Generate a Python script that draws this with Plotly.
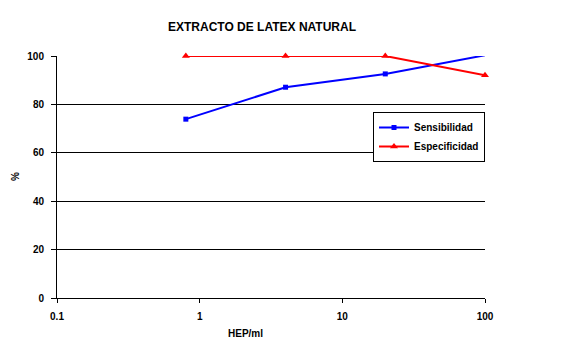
import plotly.graph_objects as go

x_vals = [0.8, 4, 20, 100]
sensibilidad = [73.9, 87.1, 92.6, 100.3]
especificidad = [100, 100, 100, 92]
x_ticks = [0.1, 1, 10, 100]
x_ticktext = ["0.1", "1", "10", "100"]
y_ticks = [0, 20, 40, 60, 80, 100]

font = "Liberation Sans, Arial, sans-serif"
W, H = 576, 354
L, R, T, B = 57, 91, 56, 56

fig = go.Figure()
fig.add_trace(go.Scatter(x=x_vals, y=sensibilidad, name="<b>Sensibilidad</b>", mode="lines+markers",
                         line=dict(color="#0000ff", width=2), cliponaxis=False,
                         marker=dict(symbol="square", size=5, color="#0000ff")))
fig.add_trace(go.Scatter(x=x_vals, y=especificidad, name="<b>Especificidad</b>", mode="lines+markers",
                         line=dict(color="#ff0000", width=2), cliponaxis=False,
                         marker=dict(symbol="triangle-up", size=7, color="#ff0000")))

pw = W - L - R
ph = H - T - B

fig.update_layout(
    width=W, height=H,
    margin=dict(l=L, r=R, t=T, b=B, autoexpand=False),
    paper_bgcolor="white", plot_bgcolor="white",
    font=dict(family=font, size=10, color="black"),
    title=dict(text="<b>EXTRACTO DE LATEX NATURAL</b>", x=262/W, xanchor="center",
               y=1 - 27/H, yanchor="middle", font=dict(size=12, family=font)),
    showlegend=True,
    legend=dict(x=1.0, xanchor="right", y=(H - B - 112)/ph, yanchor="top",
                bordercolor="black", borderwidth=1, bgcolor="white",
                font=dict(size=10, family=font), tracegroupgap=0,
                itemwidth=30),
    xaxis=dict(type="log", range=[-1, 2], tickvals=x_ticks, automargin=False,
               ticktext=["<b>%s</b>" % t for t in x_ticktext],
               showgrid=False, showline=True, linecolor="black", linewidth=1,
               ticks="outside", ticklen=4, tickcolor="black", zeroline=False,
               ticklabelstandoff=5),
    yaxis=dict(range=[0, 100], tickvals=y_ticks, automargin=False,
               ticktext=["<b>%d</b>" % t for t in y_ticks],
               showgrid=True, gridcolor="black", gridwidth=1,
               showline=True, linecolor="black", linewidth=1,
               ticks="outside", ticklen=5, tickcolor="black", zeroline=False,
               ticklabelstandoff=5),
    annotations=[
        dict(text="<b>HEP/ml</b>", xref="paper", yref="paper",
             x=(245 - L)/pw, y=(H - B - 333)/ph, xanchor="center", yanchor="middle",
             showarrow=False, font=dict(size=10)),
        dict(text="<b>%</b>", xref="paper", yref="paper",
             x=(15 - L)/pw, y=0.5, xanchor="center", yanchor="middle", textangle=-90,
             showarrow=False, font=dict(size=10)),
    ],
)

fig.write_html("out.html")
